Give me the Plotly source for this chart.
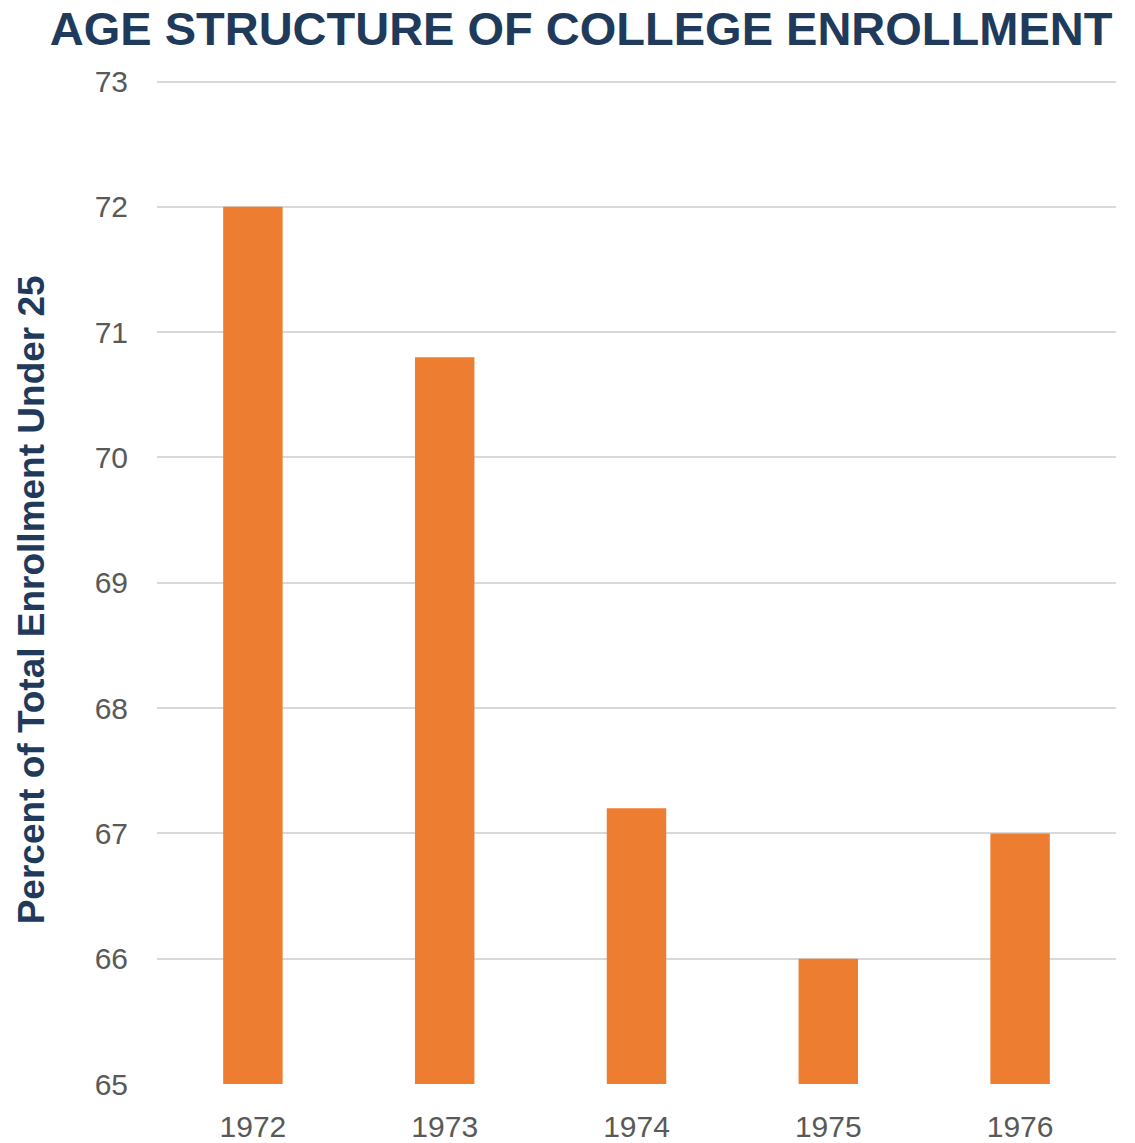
import plotly.graph_objects as go

years = ["1972", "1973", "1974", "1975", "1976"]
pct_under_25 = [72.0, 70.8, 67.2, 66.0, 67.0]

BAR_COLOR = "#ED7D31"
TITLE_COLOR = "#1F3A5A"
TICK_COLOR = "#595959"
GRID_COLOR = "#D9D9D9"

fig = go.Figure(go.Bar(
    x=years,
    y=pct_under_25,
    marker=dict(color=BAR_COLOR, line=dict(width=0)),
    width=0.31,
))

# page body adds an 8px offset; figure is shrunk so it fits the window
fig.update_layout(
    width=1127,
    height=1135,
    paper_bgcolor="white",
    plot_bgcolor="white",
    margin=dict(l=149, r=19, t=71, b=59),
    showlegend=False,
    font=dict(family="Liberation Sans, Arial, sans-serif"),
    title=dict(
        text="<b>AGE STRUCTURE OF COLLEGE ENROLLMENT</b>",
        x=0.5085, xanchor="center",
        y=0.9815, yanchor="middle",
        font=dict(size=47, color=TITLE_COLOR),
    ),
    annotations=[dict(
        text="<b>Percent of Total Enrollment Under 25</b>",
        xref="paper", yref="paper",
        x=-0.130, y=0.4816,
        xanchor="center", yanchor="middle",
        textangle=-90, showarrow=False,
        font=dict(size=37, color=TITLE_COLOR),
    )],
)

fig.update_xaxes(
    showgrid=False,
    showline=False,
    zeroline=False,
    automargin=False,
    ticks="outside",
    ticklen=16,
    tickcolor="rgba(0,0,0,0)",
    tickfont=dict(size=30, color=TICK_COLOR),
)

fig.update_yaxes(
    range=[65, 73.02],
    dtick=1,
    showgrid=True,
    gridcolor=GRID_COLOR,
    gridwidth=2,
    zeroline=False,
    showline=False,
    automargin=False,
    ticks="outside",
    ticklen=22,
    tickcolor="rgba(0,0,0,0)",
    tickfont=dict(size=30, color=TICK_COLOR),
)

fig.write_html("out.html")
